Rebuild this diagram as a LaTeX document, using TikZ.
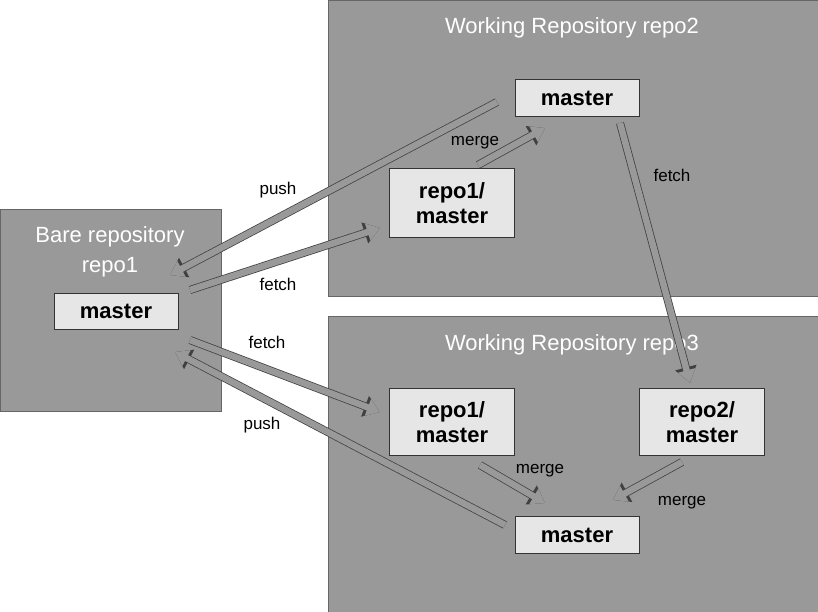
\documentclass[tikz,border=0pt]{standalone}
\usepackage{fontspec}
\setmainfont{Liberation Sans}
\usetikzlibrary{arrows.meta}
\definecolor{repogray}{RGB}{153,153,153}
\definecolor{branchgray}{RGB}{230,230,230}
\tikzset{
  repo/.style={draw=black!60, fill=repogray},
  title/.style={text=white, font=\fontsize{22}{30}\selectfont, align=center},
  branch/.style={draw=black!80, fill=branchgray, font=\bfseries\fontsize{22}{25}\selectfont, align=center, inner sep=0pt},
  flow/.style={line width=6.5pt, draw=repogray, -{Triangle[length=13pt,width=17pt]},
    preaction={draw=black!75, line width=8pt, -{Triangle[length=16pt,width=21pt]}}},
  lbl/.style={font=\fontsize{17}{20}\selectfont}
}
\begin{document}
\begin{tikzpicture}[x=1pt,y=-1pt]
\useasboundingbox (0,0) rectangle (818,612);
\draw[repo] (0,209) rectangle (221,411);
\draw[repo] (328,0) rectangle (818,296);
\draw[repo] (328,316) rectangle (818,612);
\node[title] (tbare) at (110,252) {Bare repository\\repo1};
\node[title] (trepo2) at (572,28) {Working Repository repo2};
\node[title] (trepo3) at (572,345) {Working Repository repo3};
% branches
\node[branch, minimum width=124pt, minimum height=36pt] (m1) at (116,311) {master};
\node[branch, minimum width=124pt, minimum height=37pt] (m2) at (577,98) {master};
\node[branch, minimum width=125pt, minimum height=69pt] (r2o1) at (452,203) {repo1/\\master};
\node[branch, minimum width=125pt, minimum height=67pt] (r3o1) at (452,422) {repo1/\\master};
\node[branch, minimum width=125pt, minimum height=67pt] (r3o2) at (702,422) {repo2/\\master};
\node[branch, minimum width=124pt, minimum height=37pt] (m3) at (577,535) {master};
% connector ends
\coordinate (a1) at (497,102); \coordinate (b1) at (170,275);
\coordinate (a2) at (190,290); \coordinate (b2) at (380,228);
\coordinate (a3) at (478,165); \coordinate (b3) at (545,128);
\coordinate (a4) at (620,123); \coordinate (b4) at (690,383);
\coordinate (a5) at (190,340); \coordinate (b5) at (380,412);
\coordinate (a6) at (505,525); \coordinate (b6) at (175,352);
\coordinate (a7) at (480,465); \coordinate (b7) at (545,503);
\coordinate (a8) at (682,462); \coordinate (b8) at (613,500);
\draw[flow] (a1) -- (b1);
\draw[flow] (a2) -- (b2);
\draw[flow] (a3) -- (b3);
\draw[flow] (a4) -- (b4);
\draw[flow] (a5) -- (b5);
\draw[flow] (a6) -- (b6);
\draw[flow] (a7) -- (b7);
\draw[flow] (a8) -- (b8);
% labels
\node[lbl] (l1) at (278,190) {push};
\node[lbl] (l2) at (278,284) {fetch};
\node[lbl] (l3) at (475,143) {merge};
\node[lbl] (l4) at (672,175) {fetch};
\node[lbl] (l5) at (267,342) {fetch};
\node[lbl] (l6) at (262,425) {push};
\node[lbl] (l7) at (540,471) {merge};
\node[lbl] (l8) at (682,503) {merge};
\end{tikzpicture}
\end{document}
